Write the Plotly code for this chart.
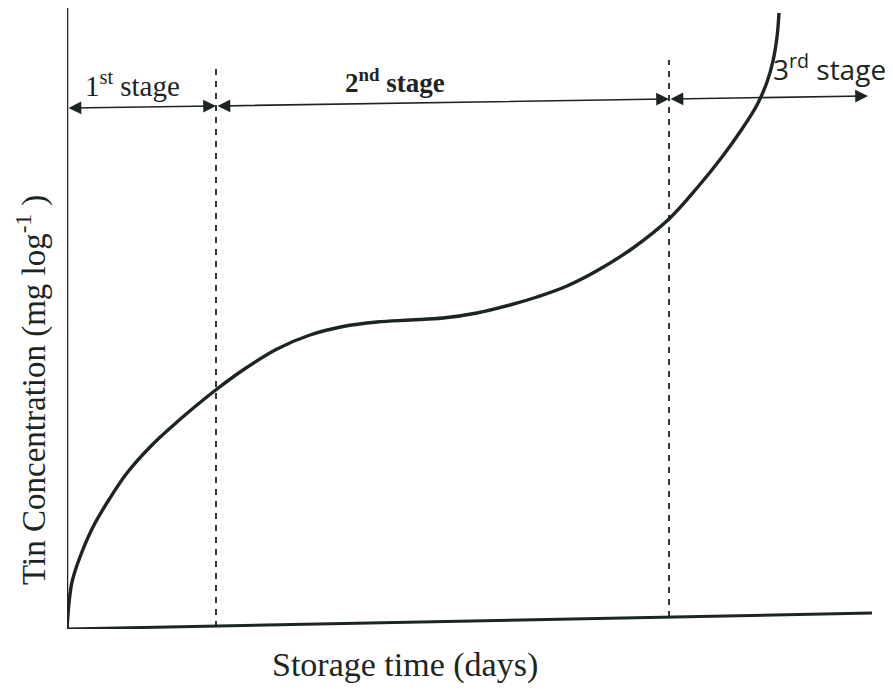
import plotly.graph_objects as go

# Schematic curve (arbitrary units: x = storage time, y = tin concentration)
time_x = [0, 2, 5, 13, 26, 43, 60, 85, 110, 130, 150, 176, 210, 243, 276, 310,
          343, 376, 410, 443, 470, 500, 533, 566, 602, 630, 655, 675, 690, 700, 706, 710, 712]
tin_y = [0, 26, 47, 72, 102, 131, 156, 184, 207, 224, 240, 259, 280, 294, 302.5, 307,
         309, 311, 316, 324, 332, 343, 360, 381, 410, 441, 472, 500, 524, 547, 568, 592, 616]

# Stage boundaries
stage_bounds = [0, 149, 602, 801]
stage_arrow_y = [521, 523, 530, 533]
stage_labels = ["1<sup>st</sup> stage", "<b>2<sup>nd</sup> stage</b>", "3<sup>rd</sup> stage"]
label_x = [65, 328, 762]
label_y = [545, 548, 562]
label_fonts = ["Liberation Serif", "Liberation Serif", "Open Sans"]
label_sizes = [29, 27, 28]

# Dashed boundary lines
dash_x = [149, 602]
dash_y0 = [2, 12]
dash_y1 = [561, 569]

# Axis line ends (baseline slightly tilted as in the drawing)
xaxis_end = [805, 16]
yaxis_top = 621

ink = "#1c2521"

fig = go.Figure()

# axes lines
fig.add_trace(go.Scatter(x=[0, xaxis_end[0]], y=[0, xaxis_end[1]], mode="lines",
                         line=dict(color=ink, width=3), hoverinfo="skip"))
fig.add_trace(go.Scatter(x=[0, 0], y=[0, yaxis_top], mode="lines",
                         line=dict(color=ink, width=2.5), hoverinfo="skip"))

# dashed lines
for dx, a, b in zip(dash_x, dash_y0, dash_y1):
    fig.add_trace(go.Scatter(x=[dx, dx], y=[a, b], mode="lines",
                             line=dict(color=ink, width=1.8, dash="6px,6px"), hoverinfo="skip"))

# curve
fig.add_trace(go.Scatter(x=time_x, y=tin_y, mode="lines",
                         line=dict(color=ink, width=3.4, shape="spline", smoothing=1),
                         hoverinfo="skip"))

annotations = []
for i in range(3):
    annotations.append(dict(
        x=stage_bounds[i + 1], y=stage_arrow_y[i + 1],
        ax=stage_bounds[i], ay=stage_arrow_y[i],
        xref="x", yref="y", axref="x", ayref="y",
        text="", showarrow=True, arrowside="end+start",
        arrowhead=2, startarrowhead=2, arrowsize=1.6, startarrowsize=1.6,
        arrowwidth=1.6, arrowcolor=ink, standoff=0, startstandoff=0))
    annotations.append(dict(
        x=label_x[i], y=label_y[i], xref="x", yref="y", text=stage_labels[i],
        xanchor="center", yanchor="middle",
        showarrow=False, font=dict(family=label_fonts[i], size=label_sizes[i], color=ink)))

annotations.append(dict(
    x=-0.0435, y=0.385, xref="paper", yref="paper", xanchor="center", yanchor="middle",
    text="Tin Concentration (mg log<sup>-1</sup> )", textangle=-90, showarrow=False,
    font=dict(family="Liberation Serif", size=33, color=ink)))
annotations.append(dict(
    x=0.42, y=-0.058, xref="paper", yref="paper", xanchor="center", yanchor="middle",
    text="Storage time (days)", showarrow=False,
    font=dict(family="Liberation Serif", size=34, color=ink)))

fig.update_layout(
    width=885, height=683,
    margin=dict(l=59, r=21, t=0, b=62),
    paper_bgcolor="white", plot_bgcolor="white",
    showlegend=False,
    xaxis=dict(range=[0, 805], visible=False, fixedrange=True),
    yaxis=dict(range=[0, 621], visible=False, fixedrange=True),
    annotations=annotations,
)

fig.write_html("out.html")
